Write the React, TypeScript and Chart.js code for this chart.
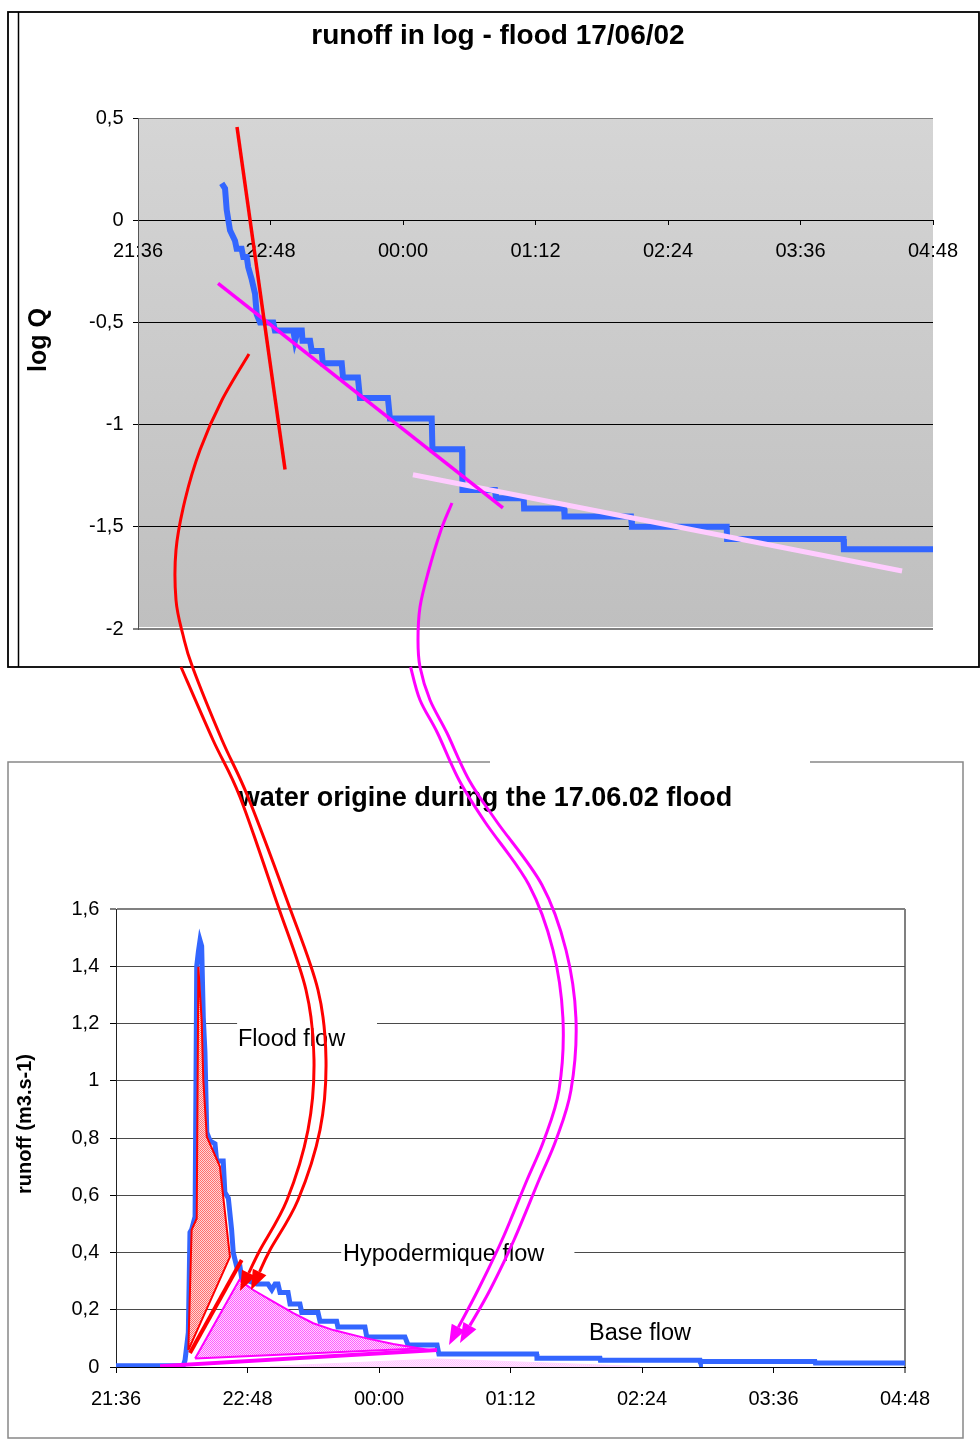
import React, { useEffect, useRef } from 'react';
import { Chart, registerables } from 'chart.js';
Chart.register(...registerables);

const FONT = "'Liberation Sans', Arial, Helvetica, sans-serif";

// time axis: minutes after 21:36
const xTickLabels = ['21:36', '22:48', '00:00', '01:12', '02:24', '03:36', '04:48'];

// ---- top chart: log Q ----
const logTimes = [45.5, 47.3, 48.2, 50.0, 52.7, 53.6, 56.3, 57.2, 59.1, 59.9, 61.8, 63.6, 64.5, 66.3, 73.5, 74.4, 84.4, 85.3, 86.9, 89.0, 89.4, 93.5, 94.4, 99.8, 100.4, 110.7, 111.4, 119.5, 120.6, 135.8, 136.9, 159.6, 160.0, 176.1, 176.3, 194.0, 194.5, 209.6, 209.8, 231.5, 231.8, 267.9, 268.4, 319.9, 320.1, 383.4, 383.6, 432];
const logQ = [0.18, 0.155, 0.05, -0.05, -0.10, -0.14, -0.14, -0.18, -0.18, -0.23, -0.29, -0.36, -0.46, -0.50, -0.50, -0.54, -0.54, -0.59, -0.54, -0.54, -0.59, -0.59, -0.64, -0.64, -0.70, -0.70, -0.77, -0.77, -0.87, -0.87, -0.97, -0.97, -1.12, -1.12, -1.32, -1.32, -1.36, -1.36, -1.41, -1.41, -1.45, -1.45, -1.50, -1.50, -1.56, -1.56, -1.61, -1.61];
const floodTrendTimes = [53.8, 79.9];
const floodTrendLog = [0.456, -1.22];
const hypoTrendTimes = [43.5, 198.3];
const hypoTrendLog = [-0.309, -1.407];
const baseTrendTimes = [149.4, 415.2];
const baseTrendLog = [-1.245, -1.716];

// ---- bottom chart: runoff ----
const runoffTimes = [0, 36.8, 37.8, 39.6, 40.5, 41.4, 43.3, 44.2, 45.1, 46.0, 46.9, 47.8, 48.7, 49.7, 51.5, 54.2, 55.1, 58.7, 59.6, 61.5, 63.3, 64.2, 66.1, 67.9, 68.8, 77.0, 83.2, 85.3, 87.1, 88.7, 89.8, 94.2, 95.3, 100.7, 101.7, 110.6, 111.7, 120.8, 121.5, 136.3, 137.3, 158.2, 159.9, 175.8, 176.8, 230.3, 230.5, 265.0, 265.2, 319.8, 320.0, 382.7, 382.9, 432];
const runoffQ = [0.004, 0.004, 0.024, 0.12, 0.47, 0.48, 0.525, 1.40, 1.45, 1.49, 1.47, 1.22, 1.10, 0.82, 0.79, 0.78, 0.72, 0.72, 0.61, 0.59, 0.48, 0.40, 0.35, 0.35, 0.31, 0.29, 0.29, 0.27, 0.29, 0.29, 0.26, 0.26, 0.22, 0.22, 0.19, 0.19, 0.16, 0.16, 0.14, 0.14, 0.105, 0.105, 0.077, 0.077, 0.045, 0.045, 0.031, 0.031, 0.024, 0.024, 0.019, 0.019, 0.014, 0.014];
const floodTimes = [39.6, 41.4, 44.2, 45.1, 46.9, 47.8, 49.7, 56.9, 58.7, 62.4, 39.6];
const floodQ = [0.059, 0.479, 0.519, 1.398, 1.212, 1.003, 0.805, 0.70, 0.595, 0.385, 0.059];
const floodSepTimes = [40.5, 68.8];
const floodSepQ = [0.049, 0.374];
const hypoTimes = [43.3, 67.5, 75.2, 86.1, 97.1, 108.0, 119.0, 137.3, 151.8, 166.4, 43.3];
const hypoQ = [0.030, 0.304, 0.269, 0.228, 0.188, 0.153, 0.129, 0.100, 0.080, 0.065, 0.030];
const hypoSepTimes = [24.1, 175.8];
const hypoSepQ = [0.003, 0.059];
const baseTimes = [84.3, 175.8, 286.9, 84.3];
const baseQ = [0.002, 0.028, 0.002, 0.002];

// area labels (anchored in data units)
const areaLabels = [
  { text: 'Flood flow', t: 66.8, q: 1.149, boxFrom: 66.3, boxTo: 142.9 },
  { text: 'Hypodermique flow', t: 124.3, q: 0.395, boxFrom: 123.3, boxTo: 251 },
  { text: 'Base flow', t: 259.0, q: 0.122, boxFrom: null as number | null, boxTo: null as number | null },
];

// decorative curved arrows (page pixels)
const redArrowA = [[249, 354], [222, 400], [200, 450], [185, 500], [176, 550], [176, 600], [183, 635], [192.5, 667], [222, 740], [248, 797], [288, 903], [318, 990], [326, 1060], [320, 1130], [298, 1200], [270, 1250], [251, 1290]];
const redArrowB = [[181, 667], [213, 740], [240, 797], [277, 903], [306, 990], [314, 1060], [308, 1130], [287, 1200], [260, 1250], [240, 1291]];
const magArrowA = [[452, 503], [441, 530], [428, 573], [420, 607], [418, 640], [420, 667], [430, 700], [447, 733], [469, 780], [497, 822], [542, 885], [566, 950], [576, 1020], [571, 1090], [556, 1140], [539, 1180], [514, 1240], [490, 1290], [460, 1343]];
const magArrowB = [[410.6, 667], [420, 700], [437.5, 733], [459, 780], [485, 822], [529, 885], [553, 950], [563, 1020], [559, 1090], [544, 1140], [527, 1180], [502, 1240], [478, 1290], [449, 1345]];

const pts = (xs: number[], ys: number[]) => xs.map((x, i) => ({ x, y: ys[i] }));
const fmtComma = (v: number) => {
  const r = Math.round(v * 10) / 10;
  return String(r).replace('.', ',');
};

function makePattern(c1: string, c2: string) {
  const cv = document.createElement('canvas');
  cv.width = 2;
  cv.height = 2;
  const g = cv.getContext('2d')!;
  g.fillStyle = c2;
  g.fillRect(0, 0, 2, 2);
  g.fillStyle = c1;
  g.fillRect(0, 0, 1, 1);
  g.fillRect(1, 1, 1, 1);
  return g.createPattern(cv, 'repeat')!;
}

function drawRotated(ctx: CanvasRenderingContext2D, text: string, x: number, y: number, font: string) {
  ctx.save();
  ctx.translate(x, y);
  ctx.rotate(-Math.PI / 2);
  ctx.font = font;
  ctx.fillStyle = '#000';
  ctx.textAlign = 'center';
  ctx.textBaseline = 'middle';
  ctx.fillText(text, 0, 0);
  ctx.restore();
}

const lineDs = (data: any[], color: string, width: number) => ({
  data,
  borderColor: color,
  borderWidth: width,
  pointRadius: 0,
  fill: false,
  tension: 0,
});

function topConfig(): any {
  const bgPlugin = {
    id: 'topBg',
    beforeDraw(chart: any) {
      const { ctx, chartArea } = chart;
      const { left, top, right, bottom } = chartArea;
      const g = ctx.createLinearGradient(0, top, 0, bottom);
      g.addColorStop(0, '#d5d5d5');
      g.addColorStop(1, '#bfbfbf');
      ctx.save();
      ctx.fillStyle = g;
      ctx.fillRect(left, top, right - left, bottom - top - 2);
      ctx.restore();
    },
    afterDraw(chart: any) {
      drawRotated(chart.ctx, 'log Q', 31, 328, `bold 25px ${FONT}`);
    },
  };
  return {
    type: 'line',
    data: {
      datasets: [
        lineDs(pts(floodTrendTimes, floodTrendLog), '#ff0000', 3.5),
        lineDs(pts(hypoTrendTimes, hypoTrendLog), '#ff00ff', 3.5),
        lineDs(pts(baseTrendTimes, baseTrendLog), '#ffccff', 5),
        lineDs(pts(logTimes, logQ), '#3366ff', 6),
      ],
    },
    options: {
      responsive: false,
      animation: false,
      devicePixelRatio: 1,
      events: [],
      layout: { padding: { left: 55, right: 47, top: 0, bottom: 39 } },
      plugins: {
        legend: { display: false },
        tooltip: { enabled: false },
        title: {
          display: true,
          text: 'runoff in log - flood 17/06/02',
          color: '#000',
          font: { family: FONT, size: 28, weight: 'bold' },
          padding: { top: 7, bottom: 65.4 },
        },
      },
      scales: {
        x: {
          type: 'linear',
          min: 0,
          max: 432,
          position: { y: 0 },
          afterFit: (s: any) => { s.height = 0; },
          border: { display: false },
          grid: { drawOnChartArea: false, color: '#000', tickColor: '#000', tickLength: 5, tickWidth: 1 },
          ticks: {
            stepSize: 72,
            autoSkip: false,
            maxRotation: 0,
            padding: 14,
            color: '#000',
            font: { family: FONT, size: 20 },
            callback: (v: number) => xTickLabels[Math.round(v / 72)] ?? '',
          },
        },
        y: {
          type: 'linear',
          min: -2,
          max: 0.5,
          afterFit: (s: any) => { s.width = 75; },
          border: { color: '#555', width: 1 },
          grid: {
            color: (c: any) => (c.tick && (c.tick.value === 0.5 || c.tick.value === -2) ? '#808080' : '#000'),
            lineWidth: (c: any) => (c.tick && c.tick.value === -2 ? 2 : 1),
            tickColor: '#000',
            tickLength: 5,
            tickWidth: 1,
          },
          ticks: {
            stepSize: 0.5,
            padding: 9.5,
            color: '#000',
            font: { family: FONT, size: 20 },
            callback: (v: number) => fmtComma(v),
          },
        },
      },
    },
    plugins: [bgPlugin],
  };
}

function bottomConfig(): any {
  const redPat = makePattern('#ff6e6e', '#ffd6d6');
  const magPat = makePattern('#ff5cff', '#ffd6ff');
  const pinkPat = makePattern('#ffc4ff', '#ffe8ff');
  const labelPlugin = {
    id: 'areaLabels',
    beforeDatasetsDraw(chart: any) {
      const { ctx } = chart;
      const xs = chart.scales.x;
      const ys = chart.scales.y;
      ctx.save();
      ctx.font = `23.5px ${FONT}`;
      ctx.textBaseline = 'middle';
      ctx.textAlign = 'left';
      for (const l of areaLabels) {
        const x = xs.getPixelForValue(l.t);
        const y = ys.getPixelForValue(l.q);
        if (l.boxFrom !== null && l.boxTo !== null) {
          const x0 = xs.getPixelForValue(l.boxFrom);
          const x1 = xs.getPixelForValue(l.boxTo);
          ctx.fillStyle = '#fff';
          ctx.fillRect(x0, y - 18, x1 - x0, 36);
        }
        ctx.fillStyle = '#000';
        ctx.fillText(l.text, x, y + 1);
      }
      ctx.restore();
    },
    afterDraw(chart: any) {
      drawRotated(chart.ctx, 'runoff (m3.s-1)', 17, 362, `bold 20px ${FONT}`);
    },
  };
  return {
    type: 'line',
    data: {
      datasets: [
        lineDs(pts(floodSepTimes, floodSepQ), '#ff0000', 4),
        { ...lineDs(pts(floodTimes, floodQ), '#ff0000', 2), fill: 'shape', backgroundColor: redPat },
        lineDs(pts(hypoSepTimes, hypoSepQ), '#ff00ff', 4),
        { ...lineDs(pts(hypoTimes, hypoQ), '#ff00ff', 2), fill: 'shape', backgroundColor: magPat },
        { ...lineDs(pts(baseTimes, baseQ), '#ffd6ff', 1), fill: 'shape', backgroundColor: pinkPat },
        lineDs(pts(runoffTimes, runoffQ), '#3366ff', 5),
      ],
    },
    options: {
      responsive: false,
      animation: false,
      devicePixelRatio: 1,
      events: [],
      layout: { padding: { left: 58, right: 58, top: 0, bottom: 0 } },
      plugins: {
        legend: { display: false },
        tooltip: { enabled: false },
        title: {
          display: true,
          text: 'water origine during the 17.06.02 flood',
          color: '#000',
          font: { family: FONT, size: 27, weight: 'bold' },
          padding: { top: 20.8, bottom: 93.8 },
        },
      },
      scales: {
        x: {
          type: 'linear',
          min: 0,
          max: 432,
          afterFit: (s: any) => { s.height = 72; },
          border: { color: '#000', width: 1 },
          grid: {
            color: (c: any) => (c.tick && c.tick.value === 432 ? '#808080' : 'rgba(0,0,0,0)'),
            lineWidth: (c: any) => (c.tick && c.tick.value === 432 ? 2 : 1),
            tickColor: '#000',
            tickLength: 6,
            tickWidth: 1,
          },
          ticks: {
            stepSize: 72,
            autoSkip: false,
            maxRotation: 0,
            padding: 14,
            color: '#000',
            font: { family: FONT, size: 20 },
            callback: (v: number) => xTickLabels[Math.round(v / 72)] ?? '',
          },
        },
        y: {
          type: 'linear',
          min: 0,
          max: 1.6,
          afterFit: (s: any) => { s.width = 50; },
          border: { color: '#222', width: 1 },
          grid: {
            color: (c: any) => {
              const v = c.tick ? Math.round(c.tick.value * 10) / 10 : -1;
              if (v === 1.6) return '#808080';
              if (v === 0) return 'rgba(0,0,0,0)';
              return '#4a4a4a';
            },
            lineWidth: (c: any) => (c.tick && Math.round(c.tick.value * 10) === 16 ? 2 : 1),
            tickColor: '#000',
            tickLength: 6,
            tickWidth: 1,
          },
          ticks: {
            stepSize: 0.2,
            padding: 10.7,
            color: '#000',
            font: { family: FONT, size: 20 },
            callback: (v: number) => fmtComma(v),
          },
        },
      },
    },
    plugins: [labelPlugin],
  };
}

function smoothPath(p: number[][]) {
  let d = `M${p[0][0]},${p[0][1]}`;
  for (let i = 0; i < p.length - 1; i++) {
    const p0 = p[i - 1] || p[i];
    const p1 = p[i];
    const p2 = p[i + 1];
    const p3 = p[i + 2] || p2;
    const c1 = [p1[0] + (p2[0] - p0[0]) / 6, p1[1] + (p2[1] - p0[1]) / 6];
    const c2 = [p2[0] - (p3[0] - p1[0]) / 6, p2[1] - (p3[1] - p1[1]) / 6];
    d += ` C${c1[0]},${c1[1]} ${c2[0]},${c2[1]} ${p2[0]},${p2[1]}`;
  }
  return d;
}

function Arrow({ points, color }: { points: number[][]; color: string }) {
  const n = points.length;
  const tip = points[n - 1];
  const prev = points[n - 2];
  const dx = tip[0] - prev[0];
  const dy = tip[1] - prev[1];
  const len = Math.hypot(dx, dy);
  const ux = dx / len;
  const uy = dy / len;
  const L = 20;
  const W = 7.5;
  const base = [tip[0] - ux * L, tip[1] - uy * L];
  const path = smoothPath([...points.slice(0, n - 1), base]);
  const tri = `${tip[0]},${tip[1]} ${base[0] - uy * W},${base[1] + ux * W} ${base[0] + uy * W},${base[1] - ux * W}`;
  return (
    <g>
      <path d={path} fill="none" stroke={color} strokeWidth={3} />
      <polygon points={tri} fill={color} />
    </g>
  );
}

export default function App() {
  const topRef = useRef<HTMLCanvasElement>(null);
  const botRef = useRef<HTMLCanvasElement>(null);
  useEffect(() => {
    const c1 = new Chart(topRef.current!, topConfig());
    const c2 = new Chart(botRef.current!, bottomConfig());
    return () => {
      c1.destroy();
      c2.destroy();
    };
  }, []);
  return (
    <div style={{ position: 'absolute', left: 0, top: 0, width: 980, height: 1439, background: '#fff', overflow: 'hidden' }}>
      <canvas ref={topRef} width={972} height={656} style={{ position: 'absolute', left: 8, top: 12, width: 972, height: 656 }} />
      <canvas ref={botRef} width={955} height={677} style={{ position: 'absolute', left: 8, top: 762, width: 955, height: 677 }} />
      <svg width={980} height={1439} style={{ position: 'absolute', left: 0, top: 0, pointerEvents: 'none' }}>
        <rect x={8} y={12} width={971} height={655} fill="none" stroke="#000" strokeWidth={1.8} />
        <line x1={18.5} y1={12} x2={18.5} y2={667} stroke="#000" strokeWidth={1.5} />
        <path d="M490,762 L8,762 L8,1438 L963,1438 L963,762 L810,762" fill="none" stroke="#888" strokeWidth={1.5} />
        <Arrow points={redArrowA} color="#ff0000" />
        <Arrow points={redArrowB} color="#ff0000" />
        <Arrow points={magArrowA} color="#ff00ff" />
        <Arrow points={magArrowB} color="#ff00ff" />
      </svg>
    </div>
  );
}
